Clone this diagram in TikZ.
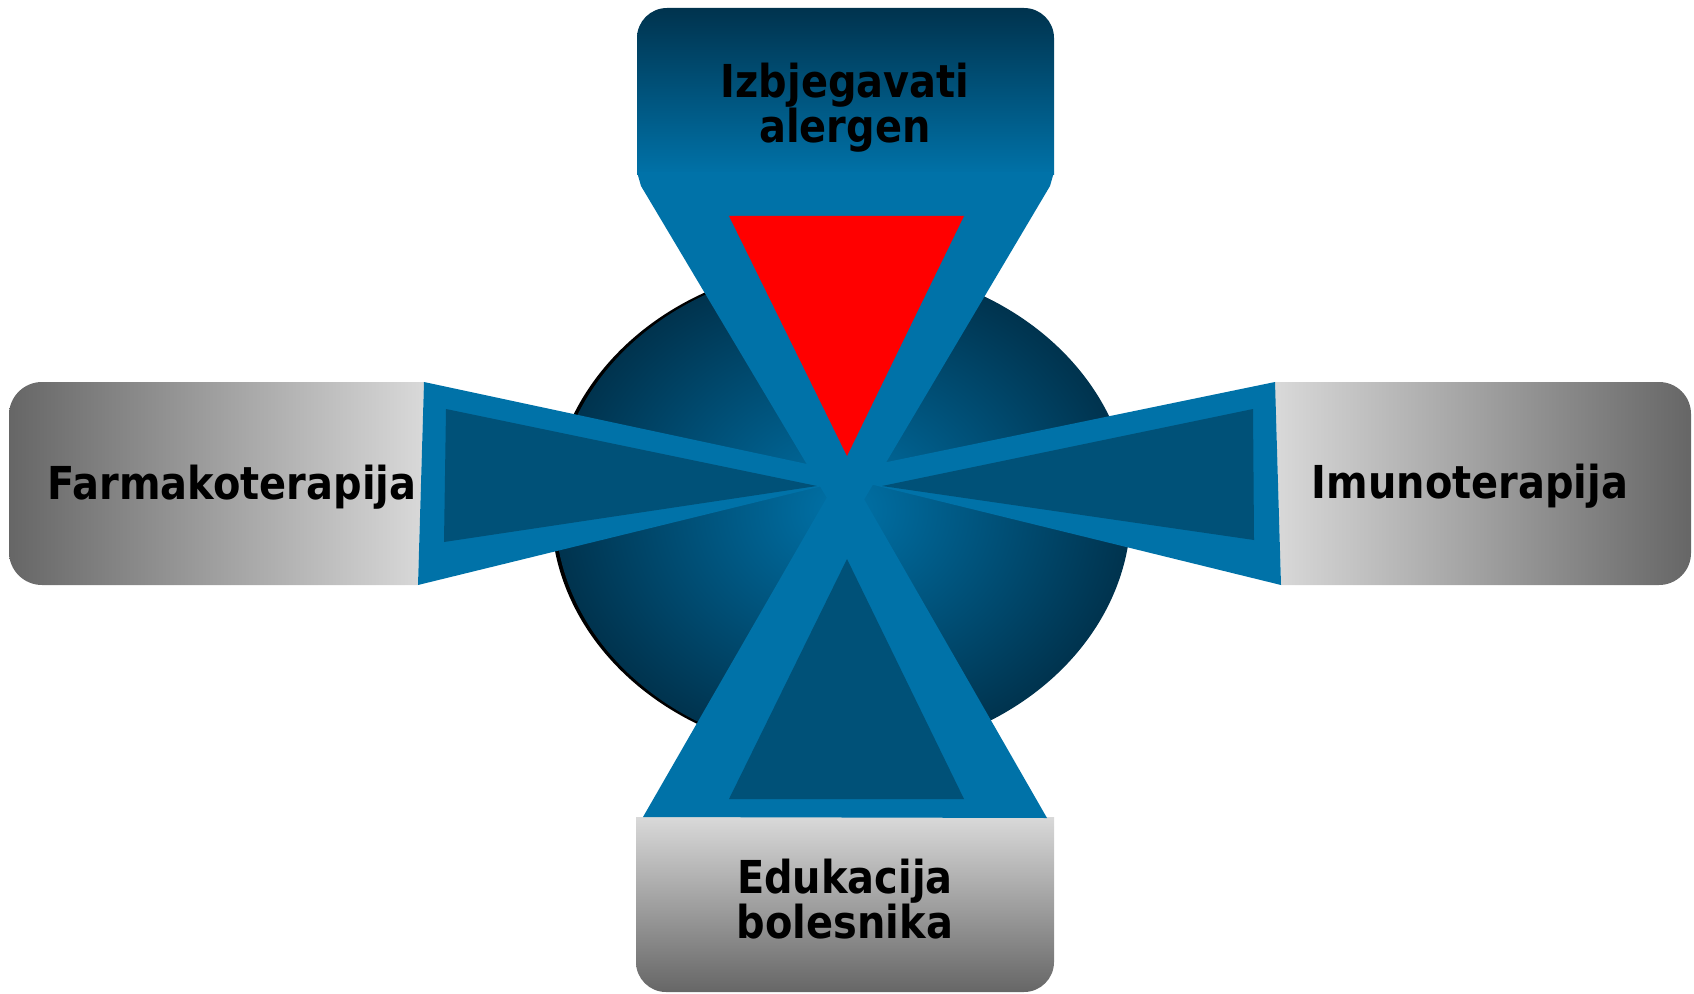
\documentclass[tikz,border=0pt]{standalone}
\usepackage{fontspec}
\newfontfamily\labelfont{DejaVu Sans}[FakeStretch=0.88]

\definecolor{bandblue}{HTML}{0072A8}
\definecolor{innerblue}{HTML}{005178}
\definecolor{navyblue}{HTML}{00334E}
\definecolor{glight}{HTML}{D9D9D9}
\definecolor{gdark}{HTML}{666666}

\begin{document}
\begin{tikzpicture}[x=0.01cm,y=-0.01cm,
  band/.style={fill=bandblue,draw=none},
  innertri/.style={fill=innerblue,draw=none},
  lbl/.style={font=\labelfont\bfseries\fontsize{12.9}{12.8}\selectfont,inner sep=0pt,align=center}]

\useasboundingbox (0,0) rectangle (1694,994);

% ellipse
\fill[black] (840,510) ellipse [x radius=289, y radius=246];
\shade[inner color=bandblue, outer color=navyblue] (843,510) ellipse [x radius=288, y radius=245];

% side boxes
\shade[left color=gdark, right color=glight] (424,382) -- (42,382) arc[start angle=270, end angle=180, radius=33]
  -- (9,552) arc[start angle=180, end angle=90, radius=33] -- (418,585) -- cycle;
\shade[left color=glight, right color=gdark] (1275,382) -- (1659,382) arc[start angle=270, end angle=360, radius=32]
  -- (1691,553) arc[start angle=0, end angle=90, radius=32] -- (1281,585) -- cycle;

\fill[band] (424,382) -- (863,476) -- (418,585) -- cycle;
\fill[band] (1275,382) -- (829,474) -- (1281,585) -- cycle;

% top and bottom boxes
\shade[top color=navyblue, bottom color=bandblue] (637,175) -- (637,38) arc[start angle=180, end angle=270, radius=30]
  -- (1024,8) arc[start angle=270, end angle=360, radius=30] -- (1054,175) -- cycle;
\shade[top color=glight, bottom color=gdark] (636,817) -- (636,962) arc[start angle=180, end angle=90, radius=30]
  -- (1024,992) arc[start angle=90, end angle=0, radius=30] -- (1054,817) -- cycle;

\fill[band] (637,172) -- (1054,172) -- (1050,186) -- (846,530) -- (641,186) -- cycle;
\fill[band] (643,817) -- (845,466) -- (1047,818) -- cycle;

% inner triangles
\fill[red] (729,216) -- (964,216) -- (847,456) -- cycle;
\fill[innertri] (446,409) -- (817,486) -- (444,542) -- cycle;
\fill[innertri] (1253,409) -- (882,486) -- (1254,540) -- cycle;
\fill[innertri] (729,799) -- (847,559) -- (964,799) -- cycle;

% labels
\node[lbl,anchor=north] (izbj) at (845,62) {Izbjegavati\\alergen};
\node[lbl,anchor=base] (farm) at (232,499) {Farmakoterapija};
\node[lbl,anchor=base] (imun) at (1470,498) {Imunoterapija};
\node[lbl,anchor=north] (eduk) at (845,858) {Edukacija\\bolesnika};

\end{tikzpicture}
\end{document}
